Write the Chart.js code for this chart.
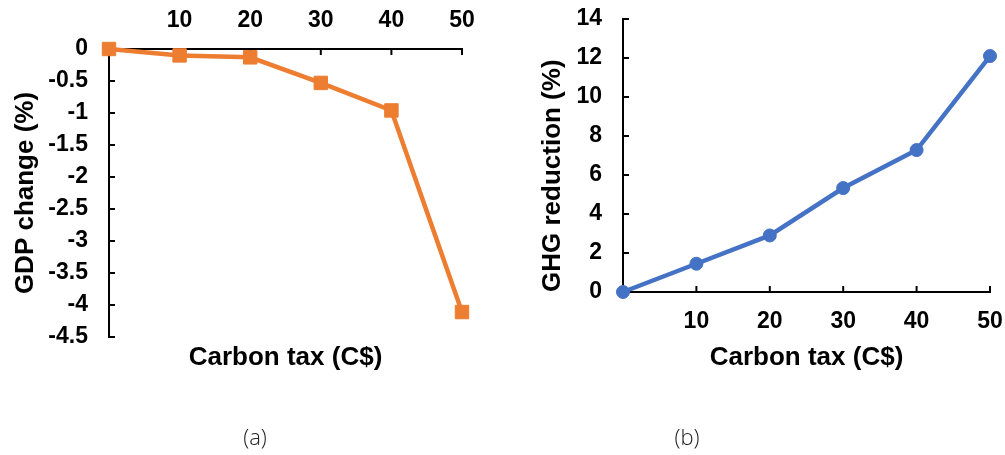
<!DOCTYPE html>
<html>
<head>
<meta charset="utf-8">
<script src="https://cdn.jsdelivr.net/npm/chart.js@4"></script>
<style>
    body { margin: 0; background: #fff; }
    #wrap { position: relative; width: 1005px; height: 455px; overflow: hidden; }
    canvas { position: absolute; top: 0; }
    #gdpChart { left: 0; }
    #ghgChart { left: 500px; }
    .caption {
        position: absolute; top: 421px; width: 60px; margin-left: -30px;
        text-align: center; font: 300 22px "Open Sans", sans-serif; color: #222;
    }
</style>
</head>
<body>
<div id="wrap">
    <canvas id="gdpChart" width="500" height="455"></canvas>
    <canvas id="ghgChart" width="505" height="455"></canvas>
    <div class="caption" style="left:255px">(a)</div>
    <div class="caption" style="left:687px">(b)</div>
</div>
<script>
// Carbon tax levels (C$)
const taxLevels = [0, 10, 20, 30, 40, 50];
// (a) GDP change (%)
const gdpChange = [0, -0.1, -0.13, -0.53, -0.96, -4.11];
// (b) GHG reduction (%)
const ghgReduction = [0, 1.45, 2.9, 5.33, 7.28, 12.1];

const gdpTicks = { min: -4.5, max: 0, step: 0.5 };
const ghgTicks = { min: 0, max: 14, step: 2 };
const taxTicks = { min: 0, max: 50, step: 10 };

const tickFont = { family: 'Liberation Sans, Arial, sans-serif', size: 23, weight: 'bold' };
const titleFont = { family: 'Liberation Sans, Arial, sans-serif', size: 26, weight: 'bold' };

Chart.defaults.color = '#000';

// Excel style tick marks that point into the plot area
const innerTicks = {
    id: 'innerTicks',
    beforeDatasetsDraw(chart, args, opts) {
        const ctx = chart.ctx;
        const area = chart.chartArea;
        ctx.save();
        ctx.strokeStyle = '#000';
        ctx.lineWidth = 2;
        (opts.scales || []).forEach(id => {
            const scale = chart.scales[id];
            scale.ticks.forEach((t, i) => {
                const p = scale.getPixelForTick(i);
                ctx.beginPath();
                if (scale.position === 'left') {
                    ctx.moveTo(area.left, p);
                    ctx.lineTo(area.left + opts.length, p);
                } else if (scale.position === 'top') {
                    ctx.moveTo(p, area.top);
                    ctx.lineTo(p, area.top + opts.length);
                } else {
                    ctx.moveTo(p, area.bottom);
                    ctx.lineTo(p, area.bottom - opts.length);
                }
                ctx.stroke();
            });
        });
        ctx.restore();
    }
};

const toPoints = (xs, ys) => xs.map((x, i) => ({ x: x, y: ys[i] }));

// fix a scale's box size so the plot area lands where the figure has it
const fixSize = (size) => (scale) => {
    if (scale.isHorizontal()) scale.height = size; else scale.width = size;
    scale.paddingLeft = scale.paddingRight = 0;
    scale.paddingTop = scale.paddingBottom = 0;
};

const axisBorder = { display: true, color: '#000', width: 2 };
const noGrid = { display: false, drawTicks: false };

const taxScale = (position, size, padding) => ({
    type: 'linear',
    position: position,
    min: taxTicks.min,
    max: taxTicks.max,
    grid: noGrid,
    border: axisBorder,
    ticks: {
        stepSize: taxTicks.step,
        font: tickFont,
        padding: padding,
        maxRotation: 0,
        callback: v => v === 0 ? '' : String(v)
    },
    afterFit: fixSize(size)
});

// (a) GDP change
new Chart(document.getElementById('gdpChart'), {
    type: 'line',
    data: {
        datasets: [{
            data: toPoints(taxLevels, gdpChange),
            borderColor: '#ED7D31',
            backgroundColor: '#ED7D31',
            borderWidth: 4.5,
            pointStyle: 'rect',
            pointRadius: 9.5,
            pointBorderWidth: 1,
            clip: false
        }]
    },
    options: {
        responsive: false,
        animation: false,
        layout: { padding: { left: 0, right: 38, top: 0, bottom: 82 } },
        plugins: {
            legend: { display: false },
            tooltip: { enabled: false },
            innerTicks: { scales: ['x', 'y'], length: 6 }
        },
        scales: {
            x: taxScale('top', 49, 15),
            x2: {
                type: 'linear',
                position: 'bottom',
                grid: { display: false },
                border: { display: false },
                ticks: { display: false },
                title: {
                    display: true,
                    text: 'Carbon tax (C$)',
                    font: titleFont,
                    padding: { top: 0, bottom: 0 }
                },
                afterFit: fixSize(36)
            },
            y: {
                min: gdpTicks.min,
                max: gdpTicks.max,
                grid: noGrid,
                border: axisBorder,
                ticks: {
                    stepSize: gdpTicks.step,
                    font: tickFont,
                    padding: 21,
                    callback: v => String(v)
                },
                title: {
                    display: true,
                    text: 'GDP change (%)',
                    font: titleFont,
                    padding: { top: 10, bottom: 0 }
                },
                afterFit: fixSize(109)
            }
        }
    },
    plugins: [innerTicks]
});

// (b) GHG reduction
new Chart(document.getElementById('ghgChart'), {
    type: 'line',
    data: {
        datasets: [{
            data: toPoints(taxLevels, ghgReduction),
            borderColor: '#4472C4',
            backgroundColor: '#4472C4',
            borderWidth: 4.5,
            pointStyle: 'circle',
            pointRadius: 6.5,
            pointBorderWidth: 1,
            clip: false
        }]
    },
    options: {
        responsive: false,
        animation: false,
        layout: { padding: { left: 0, right: 15, top: 19, bottom: 82 } },
        plugins: {
            legend: { display: false },
            tooltip: { enabled: false },
            innerTicks: { scales: ['x', 'y'], length: 6 }
        },
        scales: {
            x: Object.assign(taxScale('bottom', 81, 16), {
                title: {
                    display: true,
                    text: 'Carbon tax (C$)',
                    font: titleFont,
                    padding: { top: 0, bottom: 0 }
                }
            }),
            y: {
                min: ghgTicks.min,
                max: ghgTicks.max,
                grid: noGrid,
                border: axisBorder,
                ticks: {
                    stepSize: ghgTicks.step,
                    font: tickFont,
                    padding: 21,
                    callback: v => String(v)
                },
                title: {
                    display: true,
                    text: 'GHG reduction (%)',
                    font: titleFont,
                    align: 'start',
                    padding: { top: 37, bottom: 0 }
                },
                afterFit: fixSize(123)
            }
        }
    },
    plugins: [innerTicks]
});
</script>
</body>
</html>
